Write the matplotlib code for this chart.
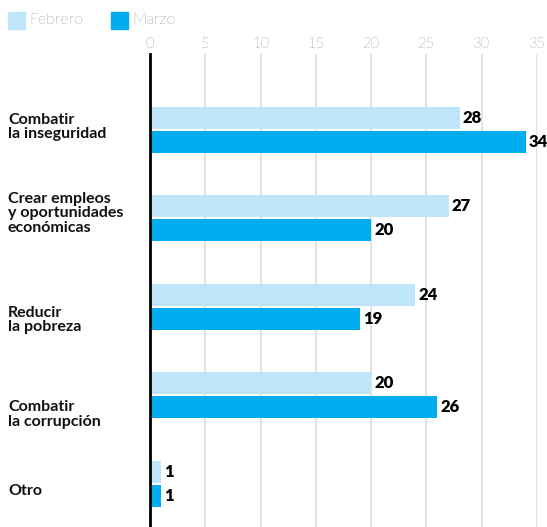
import matplotlib
matplotlib.use("Agg")
import matplotlib.pyplot as plt
from matplotlib.patches import Rectangle
import numpy as np

categories = ["Combatir\nla inseguridad", "Crear empleos\ny oportunidades\neconómicas",
              "Reducir\nla pobreza", "Combatir\nla corrupción", "Otro"]
febrero = [28, 27, 24, 20, 1]
marzo = [34, 20, 19, 26, 1]
series_names = ["Febrero", "Marzo"]
xticks = [0, 5, 10, 15, 20, 25, 30, 35]

c_feb = "#BDE6FA"
c_mar = "#00AEEF"
label_offsets_px = [-3, -5, 13, 19, 7]

plt.rcParams['font.family'] = ['Lato', 'DejaVu Sans']

W, H = 547, 527
fig = plt.figure(figsize=(W/100, H/100), dpi=100)
ax_l, ax_r, ax_t, ax_b = 150, 537, 54, 527
ax = fig.add_axes([ax_l/W, 1-ax_b/H, (ax_r-ax_l)/W, (ax_b-ax_t)/H])

y = np.arange(len(categories))
bh = 0.249
off = 0.136
ax.barh(y - off, febrero, height=bh, color=c_feb, zorder=2)
ax.barh(y + off, marzo, height=bh, color=c_mar, zorder=2)

ax.set_xlim(0, 35)
ax.set_ylim(4.49, -0.86)
ax.set_yticks([])
ax.set_xticks(xticks)
ax.xaxis.tick_top()
ax.tick_params(axis='x', length=0, pad=2,
               labelsize=10.5, labelcolor="#333333")
for lab in ax.get_xticklabels():
    lab.set_fontweight('light')
ax.grid(axis='x', color="#dddddd", linewidth=1.2, zorder=0)
for s in ['top', 'right', 'bottom']:
    ax.spines[s].set_visible(False)
ax.spines['left'].set_linewidth(2)
ax.spines['left'].set_color('black')
ax.spines['left'].set_zorder(3)

px = 35 / (ax_r - ax_l)
for i in range(len(categories)):
    ax.text(febrero[i] + 3*px, y[i] - off, str(febrero[i]), va='center', ha='left',
            fontsize=12, fontweight='heavy', color='black')
    ax.text(marzo[i] + 3*px, y[i] + off, str(marzo[i]), va='center', ha='left',
            fontsize=12, fontweight='heavy', color='black')

upx = 5.35 / (ax_b - ax_t)
trans = matplotlib.transforms.blended_transform_factory(fig.transFigure, ax.transData)
for i, cat in enumerate(categories):
    ax.text(8/W, y[i] + label_offsets_px[i]*upx, cat, transform=trans, ha='left', va='center',
            fontsize=11.5, fontweight='bold', color='#111111', linespacing=1.05)

# legend
for x0, name, col in [(8, series_names[0], c_feb), (111, series_names[1], c_mar)]:
    fig.patches.append(Rectangle((x0/W, 1-29/H), 17/W, 17/H, transform=fig.transFigure,
                                 color=col))
    fig.text((x0+21)/W, 1-20/H, name, ha='left', va='center', fontsize=11.5,
             fontweight='light', color='#333333')

fig.savefig("out.png", dpi=100)
